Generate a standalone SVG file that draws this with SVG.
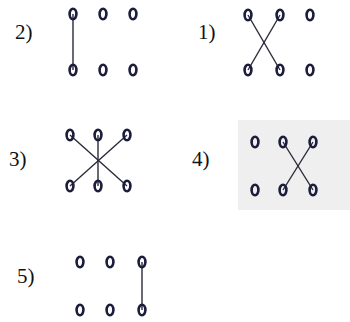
<svg xmlns="http://www.w3.org/2000/svg" width="350" height="322" viewBox="0 0 350 322">
<style>
.lbl{font-family:"Liberation Serif",serif;font-size:21px;fill:#111}
.r{fill:none;stroke:#1c1c3c;stroke-width:2.6}
.e{stroke:#2a2a3a;stroke-width:1.4;fill:none}
</style>
<defs><ellipse id="o" rx="3.4" ry="5.2" class="r"/></defs>
<rect x="238" y="120" width="112" height="90" fill="#efefef"/>
<g id="connectors">
<line class="e" x1="73" y1="14" x2="73" y2="70"/>
<line class="e" x1="248" y1="15" x2="280" y2="70"/>
<line class="e" x1="280" y1="15" x2="248" y2="70"/>
<line class="e" x1="70" y1="135" x2="127" y2="186"/>
<line class="e" x1="127" y1="135" x2="70" y2="186"/>
<line class="e" x1="98" y1="135" x2="98" y2="186"/>
<line class="e" x1="283" y1="142" x2="313" y2="190"/>
<line class="e" x1="313" y1="142" x2="283" y2="190"/>
<line class="e" x1="142" y1="262" x2="142" y2="310"/>
</g>
<g id="p2"><text class="lbl" x="15" y="39">2)</text>
<use href="#o" x="73" y="14"/><use href="#o" x="103" y="14"/><use href="#o" x="133" y="14"/>
<use href="#o" x="73" y="70"/><use href="#o" x="103" y="70"/><use href="#o" x="133" y="70"/></g>
<g id="p1"><text class="lbl" x="198" y="39">1)</text>
<use href="#o" x="248" y="15"/><use href="#o" x="280" y="15"/><use href="#o" x="310" y="15"/>
<use href="#o" x="248" y="70"/><use href="#o" x="280" y="70"/><use href="#o" x="310" y="70"/></g>
<g id="p3"><text class="lbl" x="9" y="166">3)</text>
<use href="#o" x="70" y="135"/><use href="#o" x="98" y="135"/><use href="#o" x="127" y="135"/>
<use href="#o" x="70" y="186"/><use href="#o" x="98" y="186"/><use href="#o" x="127" y="186"/></g>
<g id="p4"><text class="lbl" x="192" y="166">4)</text>
<use href="#o" x="255" y="142"/><use href="#o" x="283" y="142"/><use href="#o" x="313" y="142"/>
<use href="#o" x="255" y="190"/><use href="#o" x="283" y="190"/><use href="#o" x="313" y="190"/></g>
<g id="p5"><text class="lbl" x="17" y="283">5)</text>
<use href="#o" x="80" y="262"/><use href="#o" x="110" y="262"/><use href="#o" x="142" y="262"/>
<use href="#o" x="80" y="310"/><use href="#o" x="110" y="310"/><use href="#o" x="142" y="310"/></g>
</svg>
